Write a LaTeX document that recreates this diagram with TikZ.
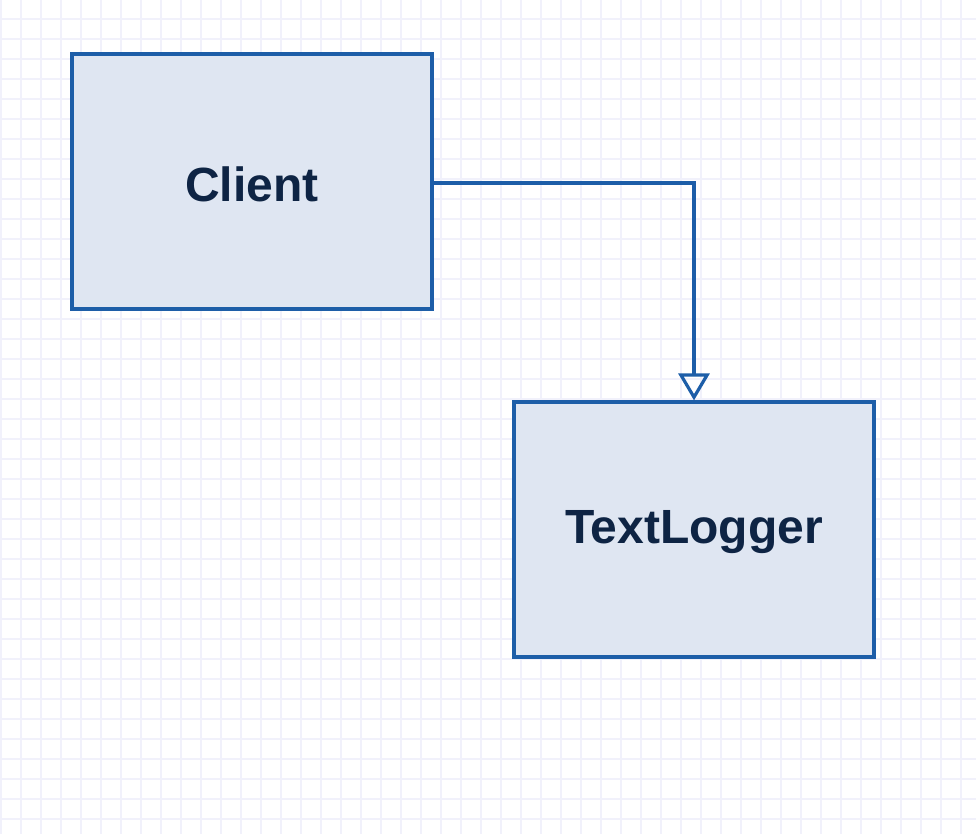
\documentclass[tikz,border=0pt]{standalone}
\usepackage{fontspec}
\setmainfont{Liberation Sans}
\usetikzlibrary{arrows.meta}
\definecolor{gridc}{HTML}{F1F1FB}
\definecolor{boxfill}{HTML}{DFE6F2}
\definecolor{boxdraw}{HTML}{1D5EA8}
\definecolor{textc}{HTML}{0E2444}
\tikzset{
  umlbox/.style={draw=boxdraw, fill=boxfill, line width=3.2pt, minimum width=360pt, minimum height=255pt, inner sep=0pt, text=textc},
  boxlabel/.style={font=\fontsize{48}{54}\selectfont\bfseries, text=textc, inner sep=0pt},
  realize/.style={draw=boxdraw, line width=3.2pt, -{Triangle[open, length=27pt, width=31pt, line width=3.2pt]}}
}
\begin{document}
\begin{tikzpicture}[x=1pt,y=-1pt]
\fill[white] (0,0) rectangle (976,834);
\useasboundingbox (0,0) rectangle (976,834);
\foreach \i in {1,21,...,976} {\draw[gridc, line width=1.5pt] (\i,0) -- (\i,834);}
\foreach \j in {19,39,...,834} {\draw[gridc, line width=1.5pt] (0,\j) -- (976,\j);}
\node[umlbox] (client) at (252,181.5) {};
\node[umlbox] (logger) at (694,529.5) {};
\node[boxlabel] (clientlbl) at (252,184) {Client};
\node[boxlabel] (loggerlbl) at (694,532) {TextLogger};
\draw[realize] (client.east |- 0,183) -| (logger.north);
\end{tikzpicture}
\end{document}
